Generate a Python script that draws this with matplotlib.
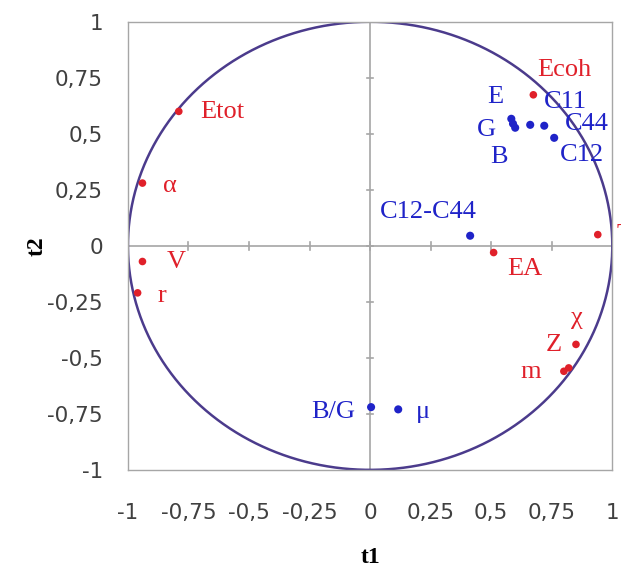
import numpy as np
import matplotlib
matplotlib.use("Agg")
import matplotlib.pyplot as plt

# correlation circle: variables on the first two components (t1, t2)
red_names = ["Ecoh", "Etot", "α", "V", "r", "EA", "Tm", "χ", "Z", "m"]
red_t1 = [0.674, -0.79, -0.94, -0.94, -0.96, 0.51, 0.94, 0.85, 0.82, 0.80]
red_t2 = [0.674, 0.60, 0.28, -0.07, -0.21, -0.03, 0.05, -0.44, -0.545, -0.56]

blue_names = ["E", "G", "B", "C11", "C44", "C12", "C12-C44", "B/G", "μ"]
blue_t1 = [0.583, 0.59, 0.599, 0.661, 0.719, 0.76, 0.413, 0.004, 0.116]
blue_t2 = [0.567, 0.545, 0.527, 0.54, 0.536, 0.482, 0.045, -0.72, -0.73]

# label offsets in pixels (dx, dy) and horizontal alignment
red_offsets = {
    "Ecoh": (4, 25, "left"), "Etot": (21, -1, "left"), "α": (21, -3, "left"),
    "V": (24, 0, "left"), "r": (20, -3, "left"), "EA": (14, -16, "left"),
    "Tm": (19, 0, "left"), "χ": (-5, 26, "left"), "Z": (-23, 23, "left"),
    "m": (-43, -1, "left"),
}
blue_offsets = {
    "E": (-24, 22, "left"), "G": (-36, -6, "left"), "B": (-25, -29, "left"),
    "C11": (14, 23, "left"), "C44": (21, 2, "left"), "C12": (6, -17, "left"),
    "C12-C44": (-90, 24, "left"), "B/G": (-16, -5, "right"), "μ": (18, -3, "left"),
}

ticks = [-1, -0.75, -0.5, -0.25, 0, 0.25, 0.5, 0.75, 1]
tick_labels = ["-1", "-0,75", "-0,5", "-0,25", "0", "0,25", "0,5", "0,75", "1"]

red = "#e0202a"
blue = "#1f23c8"
grey = "#a6a6a6"
label_size = 19

fig = plt.figure(figsize=(6.21, 5.73), dpi=100)
ax = fig.add_axes([0.206, 0.18, 0.78, 0.782])
ax.set_xlim(-1, 1)
ax.set_ylim(-1, 1)

for s in ax.spines.values():
    s.set_color(grey)
    s.set_linewidth(1.0)

# axes through the origin with small crossing ticks
ax.axhline(0, color=grey, lw=1.2, zorder=1)
ax.axvline(0, color=grey, lw=1.2, zorder=1)
for t in ticks[1:-1]:
    ax.plot([t, t], [-0.017, 0.017], color=grey, lw=1.2, zorder=1)
    ax.plot([-0.013, 0.013], [t, t], color=grey, lw=1.2, zorder=1)

theta = np.linspace(0, 2 * np.pi, 400)
ax.plot(np.cos(theta), np.sin(theta), color="#4b3b8c", lw=1.8, zorder=2)

ax.scatter(red_t1, red_t2, s=30, color=red, zorder=3, edgecolors="none")
ax.scatter(blue_t1, blue_t2, s=34, color=blue, zorder=3, edgecolors="none")

for name, x, y in zip(red_names, red_t1, red_t2):
    dx, dy, ha = red_offsets[name]
    ax.annotate(name, (x, y), xytext=(dx, dy), textcoords="offset pixels",
                ha=ha, va="center", color=red, fontsize=label_size,
                family="Liberation Serif", annotation_clip=False)

for name, x, y in zip(blue_names, blue_t1, blue_t2):
    dx, dy, ha = blue_offsets[name]
    ax.annotate(name, (x, y), xytext=(dx, dy), textcoords="offset pixels",
                ha=ha, va="center", color=blue, fontsize=label_size,
                family="Liberation Serif", annotation_clip=False)

ax.set_xticks(ticks)
ax.set_xticklabels(tick_labels)
ax.set_yticks(ticks)
ax.set_yticklabels(tick_labels)
ax.tick_params(length=0, labelsize=15.5, labelcolor="#404040")
ax.tick_params(axis="x", pad=24)
ax.tick_params(axis="y", pad=18)

ax.set_xlabel("t1", fontsize=17, fontweight="bold", family="Liberation Serif", labelpad=17)
ax.set_ylabel("t2", fontsize=17, fontweight="bold", family="Liberation Serif", labelpad=0)

fig.savefig("out.png", dpi=100)
